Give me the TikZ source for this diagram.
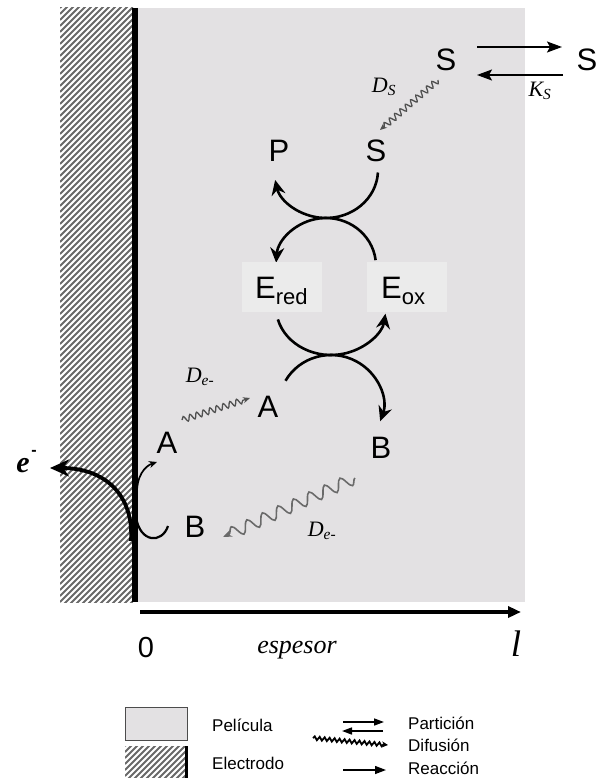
\documentclass[tikz,border=0pt]{standalone}
\usepackage{fontspec}
\setmainfont{Liberation Sans}
\newfontfamily\seriffont{Liberation Serif}
\usetikzlibrary{arrows.meta,decorations.pathmorphing,calc}
\definecolor{film}{RGB}{227,225,227}
\definecolor{boxg}{RGB}{235,235,235}
\definecolor{hatchc}{RGB}{105,105,105}
\definecolor{wavyc}{RGB}{80,80,80}
\begin{document}
\begin{tikzpicture}[x=1pt,y=-1pt,
  lab/.style={font=\fontsize{31}{31}\selectfont, inner sep=0pt},
  ilab/.style={font=\seriffont\itshape\fontsize{22}{22}\selectfont, inner sep=0pt},
  leg/.style={font=\fontsize{17}{17}\selectfont, inner sep=0pt, anchor=west},
  ebox/.style={fill=boxg, minimum width=80pt, minimum height=50pt, inner sep=0pt},
  rxn/.style={line width=2.6pt, -{Stealth[length=15pt,width=14pt,inset=5pt]}},
  parrow/.style={line width=1.6pt, -{Stealth[length=15pt,width=11pt,inset=3pt]}},
  wave/.style={draw=wavyc, line width=1.3pt, decorate,
    decoration={snake, amplitude=3pt, segment length=7pt, post length=5pt},
    -{Stealth[length=7pt,width=6pt]}},
  bigwave/.style={draw=wavyc!85, line width=1.6pt, decorate,
    decoration={snake, amplitude=6pt, segment length=17pt, post length=6pt},
    -{Stealth[length=9pt,width=7pt]}},
  hatchline/.style={draw=hatchc, line width=1.9pt}
]
\useasboundingbox (0,0) rectangle (598,778);
% film
\fill[film] (136,8) rectangle (525,602);
% electrode hatching
\begin{scope}
  \clip (60,8) rectangle (133,602);
  \foreach \c in {8,14,...,740} \draw[hatchline] (60,\c) -- ++(130,-130);
\end{scope}
\draw[line width=6pt] (135,8) -- (135,602);
% thickness axis
\coordinate (ax0) at (140,612);
\coordinate (ax1) at (521,612);
\draw[line width=4pt, -{Triangle[length=13pt,width=11pt]}] (ax0) -- (ax1);
\node[font=\fontsize{29}{29}\selectfont, inner sep=0pt] (zero) at (146,648) {0};
\node[font=\seriffont\itshape\fontsize{26}{26}\selectfont, inner sep=0pt] (esp) at (297,650) {espesor};
\node[font=\seriffont\itshape\fontsize{37}{37}\selectfont, inner sep=0pt] (ell) at (516,644) {l};

% substrate partition
\node[lab] (Sout) at (446,60) {S};
\node[lab] (Sext) at (587,60) {S};
\coordinate (p1) at (477,47);
\coordinate (p2) at (562,47);
\coordinate (p3) at (563,75);
\coordinate (p4) at (477,75);
\draw[parrow] (p1) -- (p2);
\draw[parrow] (p3) -- (p4);
\node[ilab] (Ks) at (540,91) {K\textsubscript{S}};
\node[ilab] (Ds) at (384,87) {D\textsubscript{S}};
\coordinate (w1a) at (438,80);
\coordinate (w1b) at (380,130);
\draw[wave] (w1a) -- (w1b);

% upper reaction
\node[lab] (Sin) at (376,151) {S};
\node[lab] (P) at (279,151) {P};
\draw[rxn] (326,170) ++(3:52 and 48) arc[start angle=3, end angle=168, x radius=52, y radius=48];
\draw[rxn] (326,266) ++(-7:50 and 48) arc[start angle=-7, end angle=-176, x radius=50, y radius=48];

% enzyme boxes
\node[ebox] (Ered) at (282,287) {};
\node[ebox] (Eox) at (406.5,287) {};
\node[lab, anchor=base west] (EredT) at (255,298) {E\raisebox{-6pt}{\fontsize{22}{22}\selectfont red}};
\node[lab, anchor=base west] (EoxT) at (381,298) {E\raisebox{-6pt}{\fontsize{22}{22}\selectfont ox}};

% lower reaction
\draw[rxn] (331,307) ++(165:55 and 48) arc[start angle=165, end angle=8, x radius=55, y radius=48];
\draw[rxn] (331,405) ++(209:52 and 50) arc[start angle=209, end angle=379, x radius=52, y radius=50];

\node[lab] (A1) at (268,407) {A};
\node[lab] (B1) at (381,448) {B};
\node[lab] (A2) at (167,443) {A};
\node[lab] (B2) at (195,527) {B};

\node[ilab] (De1) at (200,377) {D\textsubscript{e-}};
\node[ilab] (De2) at (322,531) {D\textsubscript{e-}};
\coordinate (w2a) at (182,420);
\coordinate (w2b) at (250,398);
\draw[wave] (w2a) -- (w2b);
\coordinate (w3a) at (355,478);
\coordinate (w3b) at (223,537);
\draw[bigwave] (w3a) -- (w3b);

% electrode reaction
\coordinate (eTail) at (131,541);
\coordinate (eTip) at (50,468);
\draw[line width=3.8pt, -{Stealth[length=19pt,width=17pt,inset=6pt]}] (eTail) .. controls (134,495) and (105,468) .. (eTip);
\coordinate (aFrom) at (137,496);
\coordinate (aTo) at (157,462);
\draw[line width=1.7pt, -{Stealth[length=8pt,width=7pt]}] (aFrom) .. controls (136,476) and (145,466) .. (aTo);
\coordinate (bFrom) at (168,526);
\coordinate (bTo) at (136,517);
\draw[line width=2.2pt] (bFrom) .. controls (162,544) and (140,543) .. (bTo);
\node[font=\seriffont\bfseries\itshape\fontsize{30}{30}\selectfont, inner sep=0pt] (em) at (23,466) {e};
\node[font=\bfseries\fontsize{16}{16}\selectfont, inner sep=0pt] (emm) at (34,453) {-};

% legend
\node[draw=black!70, line width=0.8pt, fill=film, minimum width=62pt, minimum height=33pt, inner sep=0pt] (legF) at (156,723.5) {};
\begin{scope}
  \clip (125,746) rectangle (185,778);
  \foreach \c in {746,752,...,850} \draw[hatchline] (125,\c) -- ++(80,-80);
\end{scope}
\draw[line width=3.5pt] (186.5,746) -- (186.5,778);
\node[leg] (lPel) at (212,725) {Película};
\node[leg] (lEle) at (212,763) {Electrodo};
\coordinate (l1a) at (343,722);
\coordinate (l1b) at (384,722);
\coordinate (l2a) at (383,731);
\coordinate (l2b) at (342,731);
\draw[line width=1.5pt, -{Triangle[length=10pt,width=7pt]}] (l1a) -- (l1b);
\draw[line width=1.5pt, -{Triangle[length=10pt,width=7pt]}] (l2a) -- (l2b);
\coordinate (l3a) at (313,738);
\coordinate (l3b) at (388,745);
\draw[line width=1.8pt, decorate, decoration={snake, amplitude=1.8pt, segment length=5pt, post length=3pt}, -{Stealth[length=6pt,width=6pt]}] (l3a) -- (l3b);
\coordinate (l4a) at (343,770);
\coordinate (l4b) at (386,770);
\draw[line width=1.3pt, -{Triangle[length=11pt,width=8pt]}] (l4a) -- (l4b);
\node[leg] (lPar) at (408,723) {Partición};
\node[leg] (lDif) at (408,745) {Difusión};
\node[leg] (lRea) at (408,768) {Reacción};
\end{tikzpicture}
\end{document}
